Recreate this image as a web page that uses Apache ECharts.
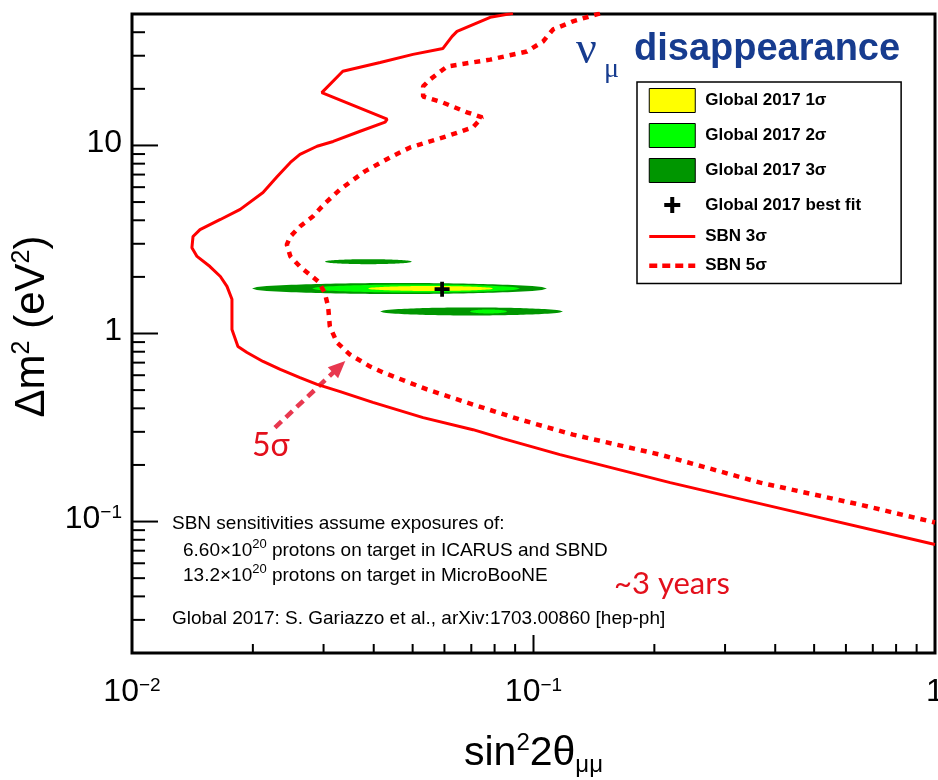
<!DOCTYPE html>
<html>
<head>
<meta charset="utf-8">
<script src="https://cdn.jsdelivr.net/npm/echarts@6/dist/echarts.min.js"></script>
<style>
  html, body { margin: 0; padding: 0; background: #ffffff; }
  #chart { width: 938px; height: 780px; }
</style>
</head>
<body>
<div id="chart"></div>
<script>
// SBN 3σ sensitivity contour: [sin²2θμμ, Δm² (eV²)]
const sbn3Sigma = [
  [0.0889, 50.4], [0.0780, 48.0], [0.0645, 40.4], [0.0627, 38.0], [0.0595, 32.8],
  [0.0501, 30.5], [0.0415, 27.6], [0.0335, 24.8], [0.0297, 19.1], [0.0432, 13.8],
  [0.0427, 13.3], [0.0370, 11.9], [0.0317, 10.5], [0.0289, 9.9], [0.0262, 8.96],
  [0.0248, 8.12], [0.0230, 6.84], [0.0212, 5.62], [0.0186, 4.57], [0.0166, 4.04],
  [0.01477, 3.57], [0.01419, 3.28], [0.01410, 2.86], [0.01452, 2.57], [0.01564, 2.27],
  [0.0166, 2.01], [0.01724, 1.78], [0.01774, 1.52], [0.01774, 1.05], [0.01836, 0.853],
  [0.01934, 0.793], [0.0212, 0.710], [0.0234, 0.644], [0.0262, 0.583], [0.0289, 0.536],
  [0.0330, 0.491], [0.0398, 0.430], [0.0531, 0.357], [0.0707, 0.308], [0.0840, 0.276],
  [0.1164, 0.227], [0.219, 0.161], [0.404, 0.1186], [1.0, 0.0755]
];

// SBN 5σ sensitivity contour
const sbn5Sigma = [
  [0.1464, 50.4], [0.1254, 45.7], [0.1119, 41.4], [0.1056, 35.7], [0.0963, 31.6],
  [0.0780, 28.6], [0.0609, 26.3], [0.0552, 22.4], [0.0531, 20.6], [0.0531, 18.2],
  [0.0595, 16.9], [0.0683, 15.0], [0.0745, 14.1], [0.0707, 12.5], [0.0609, 11.2],
  [0.0493, 9.76], [0.0439, 8.63], [0.0380, 7.28], [0.0330, 5.84], [0.0302, 4.91],
  [0.0282, 4.19], [0.0262, 3.71], [0.0248, 3.28], [0.0243, 2.97], [0.0248, 2.57],
  [0.0262, 2.27], [0.0281, 2.01], [0.0291, 1.89], [0.0302, 1.65], [0.0308, 1.39],
  [0.0311, 1.09], [0.0324, 0.895], [0.0349, 0.773], [0.0392, 0.667], [0.0422, 0.621],
  [0.0543, 0.504], [0.0707, 0.419], [0.0925, 0.349], [0.1254, 0.290], [0.2065, 0.227],
  [0.367, 0.161], [0.650, 0.123], [1.0, 0.0989]
];

// Global 2017 allowed islands: [sin²2θ left, sin²2θ right, Δm² low, Δm² high]
const global3Sigma = [
  [0.0302, 0.0498, 2.337, 2.485],
  [0.0199, 0.108, 1.622, 1.856],
  [0.0415, 0.1184, 1.247, 1.376]
];
const global2Sigma = [
  [0.0281, 0.0925, 1.652, 1.822],
  [0.0695, 0.0859, 1.278, 1.342]
];
const global1Sigma = [
  [0.0387, 0.0793, 1.683, 1.789]
];
const globalBestFit = [[0.0592, 1.72]];

// Tick positions on the two logarithmic axes
const xTickValues = [
  0.01, 0.02, 0.03, 0.04, 0.05, 0.06, 0.07, 0.08, 0.09,
  0.1, 0.2, 0.3, 0.4, 0.5, 0.6, 0.7, 0.8, 0.9, 1
];
const yTickValues = [
  0.02, 0.03, 0.04, 0.05, 0.06, 0.07, 0.08, 0.09,
  0.1, 0.2, 0.3, 0.4, 0.5, 0.6, 0.7, 0.8, 0.9,
  1, 2, 3, 4, 5, 6, 7, 8, 9, 10, 20, 30, 40, 50
];
const xTickLabels = { '-2': '10{sup|−2}', '-1': '10{sup|−1}', '0': '{base|1}' };
const yTickLabels = { '-1': '10{sup|−1}', '0': '{base|1}', '1': '{base|10}' };

const X_MIN = 0.01, X_MAX = 1, Y_MIN = 0.02, Y_MAX = 50;
const FONT = 'Liberation Sans';
const RED = '#ff0000';
const BLUE = '#173c8f';
const PLUS = 'path://M3,0H5V3H8V5H5V8H3V5H0V3H3Z';
const PLUS_PADDED = 'path://M-2,-2M10,10M3,0H5V3H8V5H5V8H3V5H0V3H3Z';
const DASH_5SIGMA = [6, 6];

function decadeOf(v) {
  const l = Math.log10(v);
  const r = Math.round(l);
  return Math.abs(l - r) < 1e-6 ? r : null;
}

function tickLabel(table) {
  return function (v) {
    const d = decadeOf(v);
    if (d === null) return '';
    const s = table[String(d)];
    return s ? s.replace(/^10\{/, '{base|10}{') : '';
  };
}

const tickRich = {
  base: { fontFamily: FONT, fontSize: 32, color: '#000', lineHeight: 36, verticalAlign: 'top' },
  sup: { fontFamily: FONT, fontSize: 19, color: '#000', lineHeight: 22, verticalAlign: 'top' }
};

// Allowed region drawn as a lens between the left and right ends of the island
function lensItem(params, api) {
  const xl = api.value(0), xr = api.value(1), ylo = api.value(2), yhi = api.value(3);
  const yc = Math.sqrt(ylo * yhi);
  const pl = api.coord([xl, yc]);
  const pr = api.coord([xr, yc]);
  const half = (api.coord([xl, ylo])[1] - api.coord([xl, yhi])[1]) / 2;
  const n = 60;
  const top = [], bottom = [];
  for (let i = 0; i <= n; i++) {
    const t = i / n;
    const w = Math.pow(Math.sin(Math.PI * t), 0.45) * half;
    const x = pl[0] + t * (pr[0] - pl[0]);
    const y = pl[1] + t * (pr[1] - pl[1]);
    top.push([x, y - w]);
    bottom.unshift([x, y + w]);
  }
  return {
    type: 'polygon',
    shape: { points: top.concat(bottom) },
    style: { fill: api.visual('color'), stroke: null }
  };
}

function tickItem(axis) {
  return function (params, api) {
    const v = api.value(axis === 'x' ? 0 : 1);
    const major = decadeOf(v) !== null;
    const p = api.coord([api.value(0), api.value(1)]);
    const len = axis === 'x' ? (major ? 18 : 9) : (major ? 26 : 13);
    const shape = axis === 'x'
      ? { x1: p[0], y1: p[1], x2: p[0], y2: p[1] - len }
      : { x1: p[0], y1: p[1], x2: p[0] + len, y2: p[1] };
    return { type: 'line', shape: shape, style: { stroke: '#000', lineWidth: 2 } };
  };
}

const chart = echarts.init(document.getElementById('chart'), null, { renderer: 'canvas' });

chart.setOption({
  animation: false,
  backgroundColor: '#ffffff',
  grid: {
    left: 132, right: 3, top: 14, bottom: 127,
    show: true, borderColor: '#000', borderWidth: 3, backgroundColor: 'transparent',
    containLabel: false, outerBoundsMode: 'none'
  },
  xAxis: {
    type: 'log', logBase: 10, min: X_MIN, max: X_MAX,
    axisLine: { show: false }, axisTick: { show: false }, splitLine: { show: false },
    axisLabel: { margin: 23, formatter: tickLabel(xTickLabels), rich: tickRich, hideOverlap: false },
    name: '{a|sin}{s|2}{a|2θ}{b|μμ}',
    nameLocation: 'middle', nameGap: 78,
    nameTextStyle: {
      rich: {
        a: { fontFamily: FONT, fontSize: 41, color: '#000', lineHeight: 46 },
        s: { fontFamily: FONT, fontSize: 24, color: '#000', lineHeight: 18, verticalAlign: 'top' },
        b: { fontFamily: FONT, fontSize: 24, color: '#000', lineHeight: 14, verticalAlign: 'bottom' }
      }
    }
  },
  yAxis: {
    type: 'log', logBase: 10, min: Y_MIN, max: Y_MAX,
    axisLine: { show: false }, axisTick: { show: false }, splitLine: { show: false },
    axisLabel: { margin: 10, formatter: tickLabel(yTickLabels), rich: tickRich, hideOverlap: false },
    name: '{a|Δm}{s|2}{a| (eV}{s|2}{a|)}',
    nameLocation: 'middle', nameGap: 66,
    nameTextStyle: {
      padding: [0, 0, 0, 14],
      rich: {
        a: { fontFamily: FONT, fontSize: 42, color: '#000', lineHeight: 46 },
        s: { fontFamily: FONT, fontSize: 25, color: '#000', lineHeight: 18, verticalAlign: 'top' }
      }
    }
  },
  legend: {
    orient: 'vertical', left: 637, top: 82,
    padding: [6, 40, 8, 10],
    itemWidth: 46, itemHeight: 24, itemGap: 10,
    backgroundColor: '#ffffff', borderColor: '#000', borderWidth: 1.5, borderRadius: 0,
    selectedMode: false,
    textStyle: { fontFamily: FONT, fontWeight: 'bold', fontSize: 17, color: '#000', padding: [0, 0, 0, 5] },
    data: [
      { name: 'Global 2017 1σ', icon: 'rect', itemStyle: { color: '#ffff00', borderColor: '#000', borderWidth: 1 } },
      { name: 'Global 2017 2σ', icon: 'rect', itemStyle: { color: '#00ff00', borderColor: '#000', borderWidth: 1 } },
      { name: 'Global 2017 3σ', icon: 'rect', itemStyle: { color: '#009600', borderColor: '#000', borderWidth: 1 } },
      { name: 'Global 2017 best fit', icon: PLUS_PADDED, itemStyle: { color: '#000', opacity: 1 } },
      { name: 'SBN 3σ',
        itemStyle: { color: 'rgba(0,0,0,0)', borderWidth: 0, opacity: 0 },
        lineStyle: { color: RED, width: 3, type: 'solid' } },
      { name: 'SBN 5σ',
        itemStyle: { color: 'rgba(0,0,0,0)', borderWidth: 0, opacity: 0 },
        lineStyle: { color: RED, width: 4.5, type: [8, 5], cap: 'butt' } }
    ]
  },
  graphic: [
    { type: 'text', left: 576, top: 28, silent: true,
      style: { text: 'ν', fontFamily: 'Liberation Serif', fontSize: 46, fill: BLUE } },
    { type: 'text', left: 604, top: 56, silent: true,
      style: { text: 'μ', fontFamily: 'Liberation Serif', fontSize: 28, fill: BLUE } },
    { type: 'text', left: 634, top: 31, silent: true,
      style: { text: 'disappearance', fontFamily: FONT, fontWeight: 'bold', fontSize: 38, fill: BLUE } },
    { type: 'text', x: 172, y: 524, silent: true,
      style: { text: 'SBN sensitivities assume exposures of:', fontFamily: FONT, fontSize: 19, fill: '#000', verticalAlign: 'middle' } },
    { type: 'text', x: 183, y: 551, silent: true,
      style: {
        text: '{t|6.60×10}{s|20}{t| protons on target in ICARUS and SBND}', verticalAlign: 'middle',
        rich: { t: { fontFamily: FONT, fontSize: 19, fill: '#000', lineHeight: 26 },
                s: { fontFamily: FONT, fontSize: 13, fill: '#000', lineHeight: 10, verticalAlign: 'top' } }
      } },
    { type: 'text', x: 183, y: 576, silent: true,
      style: {
        text: '{t|13.2×10}{s|20}{t| protons on target in MicroBooNE}', verticalAlign: 'middle',
        rich: { t: { fontFamily: FONT, fontSize: 19, fill: '#000', lineHeight: 26 },
                s: { fontFamily: FONT, fontSize: 13, fill: '#000', lineHeight: 10, verticalAlign: 'top' } }
      } },
    { type: 'text', x: 172, y: 619, silent: true,
      style: { text: 'Global 2017: S. Gariazzo et al., arXiv:1703.00860 [hep-ph]', fontFamily: FONT, fontSize: 19, fill: '#000', verticalAlign: 'middle' } },
    { type: 'text', x: 614, y: 584, silent: true,
      style: { text: '~3 years', fontFamily: 'Lato', fontSize: 31, fill: '#e3101c', verticalAlign: 'middle' } },
    { type: 'text', x: 252, y: 446, silent: true,
      style: { text: '5σ', fontFamily: 'Lato', fontSize: 32, fill: '#e3101c', verticalAlign: 'middle' } }
  ],
  series: [
    { type: 'custom', name: 'Global 2017 3σ', silent: true, z: 2,
      itemStyle: { color: '#009600' }, encode: { x: [0, 1], y: [2, 3] },
      renderItem: lensItem, data: global3Sigma },
    { type: 'custom', name: 'Global 2017 2σ', silent: true, z: 3,
      itemStyle: { color: '#00ff00' }, encode: { x: [0, 1], y: [2, 3] },
      renderItem: lensItem, data: global2Sigma },
    { type: 'custom', name: 'Global 2017 1σ', silent: true, z: 4,
      itemStyle: { color: '#ffff00' }, encode: { x: [0, 1], y: [2, 3] },
      renderItem: lensItem, data: global1Sigma },
    { type: 'line', name: 'SBN 3σ', silent: true, z: 6, symbol: 'none', smooth: false,
      itemStyle: { color: RED },
      lineStyle: { color: RED, width: 3 },
      data: sbn3Sigma,
      markLine: {
        silent: true, animation: false,
        symbol: ['none', 'triangle'], symbolSize: [15, 17],
        label: { show: false },
        lineStyle: { color: '#e8384f', type: [9, 6], width: 4.5 },
        emphasis: { disabled: true },
        data: [[{ coord: [0.0227, 0.316] }, { coord: [0.0328, 0.664] }]]
      } },
    { type: 'line', name: 'SBN 5σ', silent: true, z: 6, symbol: 'none', smooth: false,
      itemStyle: { color: RED },
      lineStyle: { color: RED, width: 4.5, type: DASH_5SIGMA, cap: 'butt' },
      data: sbn5Sigma },
    { type: 'scatter', name: 'Global 2017 best fit', silent: true, z: 8,
      symbol: PLUS, symbolSize: 15, itemStyle: { color: '#000', opacity: 1 },
      data: globalBestFit },
    { type: 'custom', silent: true, z: 10, renderItem: tickItem('x'),
      data: xTickValues.map(v => [v, Y_MIN]) },
    { type: 'custom', silent: true, z: 10, renderItem: tickItem('y'),
      data: yTickValues.map(v => [X_MIN, v]) }
  ]
});
</script>
</body>
</html>
